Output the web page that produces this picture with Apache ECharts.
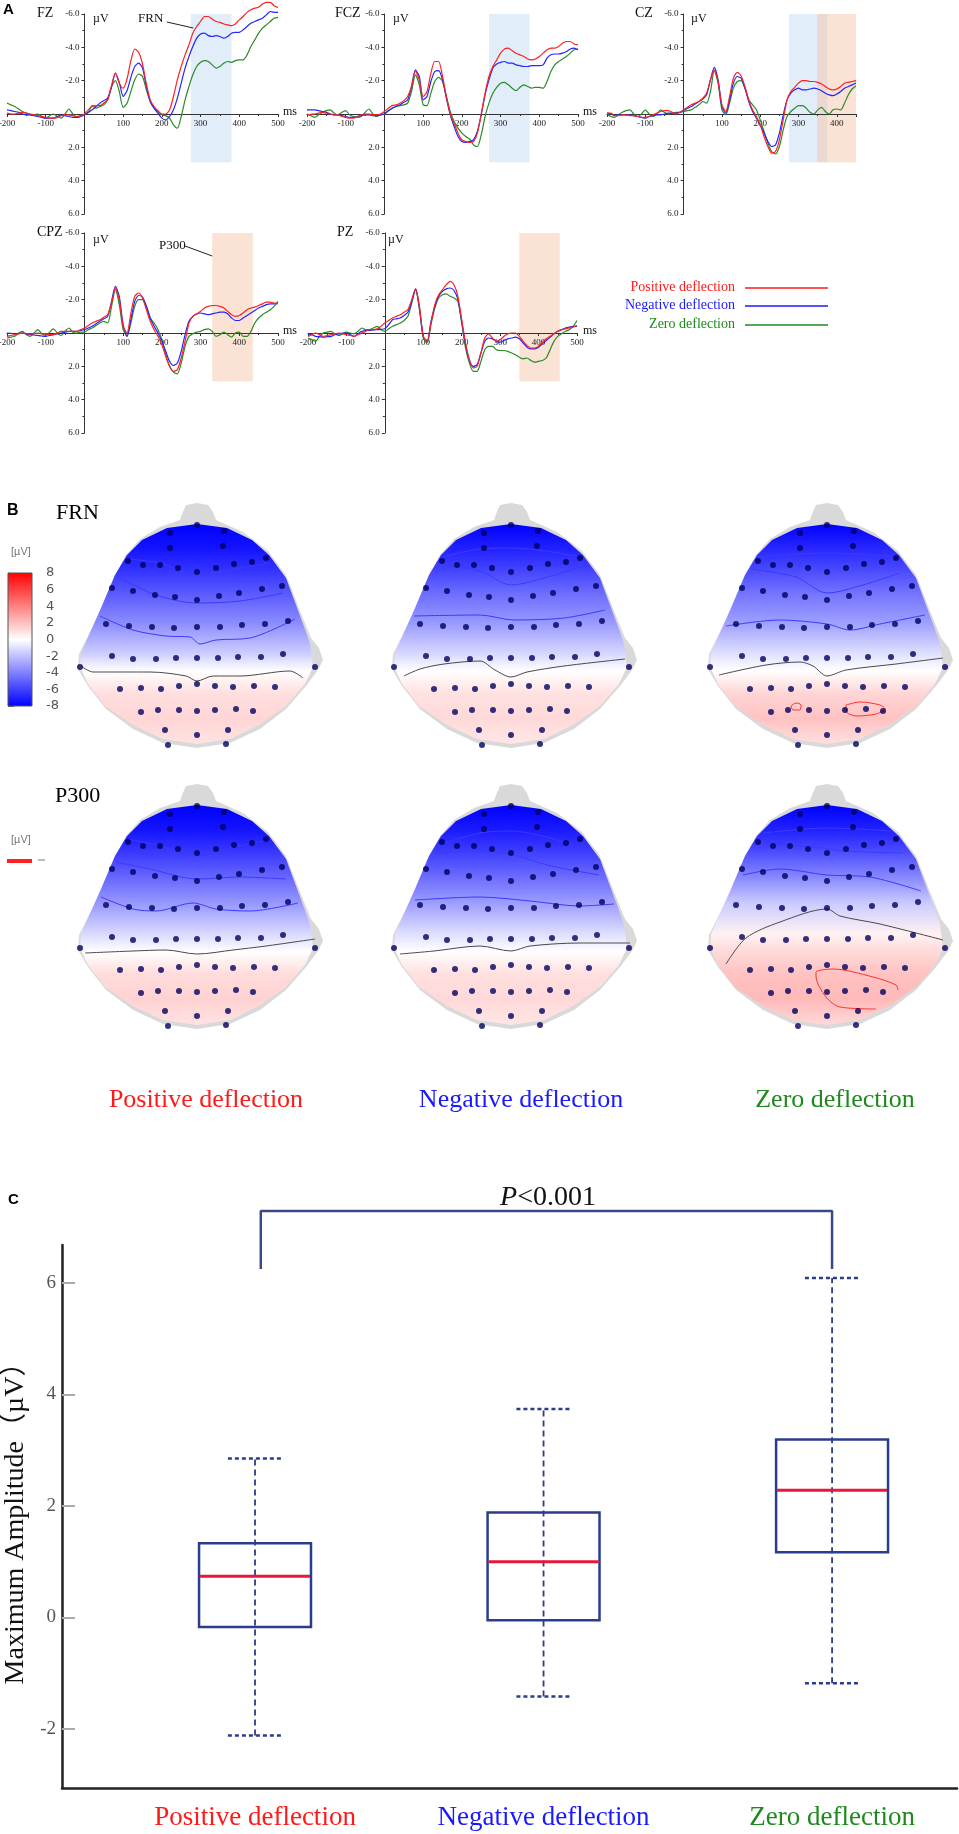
<!DOCTYPE html>
<html>
<head>
<meta charset="utf-8">
<script src="https://cdn.jsdelivr.net/npm/echarts@6.0.0/dist/echarts.min.js"></script>
<style>
  html, body { margin: 0; padding: 0; background: #fff; }
  #main { width: 959px; height: 1834px; }
</style>
</head>
<body>
<div id="main"></div>
<script>
// ---------- Panel A: ERP waveforms (µV, negative up), sampled every 10 ms ----------
const timeMs = [
  -200,-190,-180,-170,-160,-150,-140,-130,-120,-110,
  -100,-90,-80,-70,-60,-50,-40,-30,-20,-10,
  0,10,20,30,40,50,60,70,80,90,
  100,110,120,130,140,150,160,170,180,190,
  200,210,220,230,240,250,260,270,280,290,
  300,310,320,330,340,350,360,370,380,390,
  400,410,420,430,440,450,460,470,480,490,
  500
]

const fzRed = [
  -0.05,0,0,-0.05,-0.1,-0.05,0,0.05,0.1,0.15,
  0.2,0.25,0.25,0.2,0.1,0.05,0.05,0.1,0.15,0.1,
  0,-0.25,-0.45,-0.5,-0.5,-0.65,-0.85,-1.7,-2.45,-1.85,
  -1.55,-2.1,-3.2,-3.9,-3.7,-3.0,-1.8,-0.85,-0.45,-0.2,
  0,0,-0.25,-1.05,-2.05,-2.85,-3.55,-4.15,-4.85,-5.25,
  -5.55,-5.85,-5.85,-5.7,-5.55,-5.5,-5.4,-5.35,-5.3,-5.4,
  -5.65,-5.85,-6.1,-6.25,-6.35,-6.4,-6.6,-6.7,-6.7,-6.5,
  -6.4
]
const fzBlue = [
  -0.25,-0.2,-0.15,-0.1,0,0.05,0.05,0.1,0.15,0.2,
  0.25,0.25,0.25,0.15,0.05,0.1,0.15,0.2,0.2,0.15,
  0.05,-0.1,-0.25,-0.45,-0.65,-0.8,-0.95,-1.6,-2.45,-1.9,
  -1.05,-1.4,-2.2,-2.85,-3.05,-2.75,-1.65,-0.75,-0.35,-0.05,
  0.25,0.35,0.15,-0.25,-0.95,-1.85,-2.75,-3.45,-4.05,-4.55,
  -4.8,-4.85,-4.7,-4.65,-4.7,-4.65,-4.55,-4.65,-4.85,-4.9,
  -4.9,-5.05,-5.25,-5.45,-5.55,-5.65,-5.75,-5.95,-6.15,-6.1,
  -6.1
]
const fzGreen = [
  -0.65,-0.55,-0.45,-0.3,-0.15,-0.05,0.05,0.05,0,0.15,
  0.25,0.1,0,0.15,0.25,0,-0.3,0,0.2,0.15,
  0.05,-0.1,-0.5,-0.35,-0.45,-0.55,-0.85,-1.65,-2.0,-1.35,
  -0.4,-0.65,-1.35,-2.05,-2.4,-2.25,-1.45,-0.75,-0.35,-0.15,
  0.05,0.1,0.25,0.65,0.85,0.15,-0.85,-1.65,-2.35,-2.85,
  -3.1,-3.2,-3.15,-2.95,-2.75,-2.85,-3.05,-3.15,-3.1,-3.2,
  -3.25,-3.25,-3.55,-4.05,-4.45,-4.85,-5.15,-5.35,-5.55,-5.75,
  -5.8
]

const fczRed = [
  0.05,0.02,0,-0.05,-0.1,-0.05,0,0.05,0.05,0.15,
  0.2,0.25,0.25,0.15,0.05,0,0,0.05,0.05,0,
  -0.15,-0.35,-0.5,-0.55,-0.65,-0.8,-1.05,-1.65,-2.55,-2.05,
  -1.05,-1.35,-2.45,-3.15,-3.15,-2.25,-1.05,0,0.55,1.15,
  1.55,1.65,1.7,1.65,1.15,0,-1.25,-2.25,-2.85,-3.25,
  -3.65,-3.9,-3.95,-3.8,-3.65,-3.55,-3.45,-3.3,-3.25,-3.3,
  -3.45,-3.65,-3.85,-3.95,-3.95,-4.05,-4.25,-4.35,-4.35,-4.2,
  -4.15
]
const fczBlue = [
  -0.25,-0.25,-0.25,-0.2,-0.15,-0.1,0,0.05,0.05,0.1,
  0.15,0.2,0.2,0.15,0.1,0.05,0.05,0.1,0.1,0.05,
  0,-0.2,-0.35,-0.45,-0.55,-0.7,-0.85,-1.65,-2.65,-2.25,
  -0.85,-1.05,-1.95,-2.55,-2.6,-2.05,-0.95,0.05,0.75,1.35,
  1.65,1.7,1.65,1.55,1.05,0.05,-1.15,-2.05,-2.75,-3.0,
  -3.1,-3.15,-3.05,-3.05,-2.95,-2.9,-2.85,-2.85,-2.9,-2.9,
  -2.9,-2.95,-3.35,-3.55,-3.6,-3.6,-3.65,-3.75,-3.9,-3.95,
  -3.85
]
const fczGreen = [
  0,0.1,0.2,0.05,-0.1,-0.2,-0.25,-0.05,0.05,-0.1,
  -0.2,0.05,0.15,0.2,0.15,-0.1,-0.3,0,0.15,0.05,
  0,-0.2,-0.35,-0.45,-0.5,-0.55,-0.65,-1.35,-2.35,-1.75,
  -0.55,-0.5,-1.25,-1.95,-2.2,-1.95,-1.05,-0.15,0.45,0.85,
  1.15,1.35,1.5,1.85,1.95,1.25,0.15,-0.65,-1.25,-1.6,
  -1.85,-1.9,-1.75,-1.55,-1.4,-1.6,-1.75,-1.65,-1.55,-1.6,
  -1.6,-1.55,-1.95,-2.55,-2.95,-3.15,-3.3,-3.45,-3.65,-3.85,
  -3.9
]

// CZ is recorded up to 450 ms only
const czRed = [
  -0.05,-0.05,0.1,0.1,0.05,0.05,0.1,0.1,0.15,0.2,
  0.2,0.15,0.05,-0.05,-0.15,-0.2,-0.2,-0.1,0,-0.1,
  -0.25,-0.4,-0.55,-0.65,-0.75,-0.95,-1.25,-2.05,-2.65,-1.95,
  -0.55,-0.15,-1.05,-2.15,-2.5,-2.3,-1.65,-0.85,-0.25,0.15,
  0.65,1.35,1.95,2.35,2.25,1.55,0.35,-0.85,-1.35,-1.6,
  -1.85,-2.0,-2.0,-1.95,-1.95,-1.9,-1.8,-1.65,-1.5,-1.45,
  -1.5,-1.65,-1.85,-1.9,-1.95,-2.0
]
const czBlue = [
  -0.05,0,0.1,0.05,0.05,0.05,0.05,0.1,0.15,0.2,
  0.25,0.15,0.1,0.05,0.05,0,-0.05,-0.05,-0.05,-0.1,
  -0.2,-0.35,-0.45,-0.6,-0.75,-0.9,-1.15,-2.05,-2.8,-2.05,
  -0.45,-0.05,-0.85,-1.85,-2.25,-2.15,-1.55,-0.75,-0.15,0.25,
  0.65,1.15,1.65,1.95,1.85,1.15,0.05,-0.85,-1.25,-1.45,
  -1.55,-1.45,-1.45,-1.5,-1.55,-1.5,-1.4,-1.25,-1.15,-1.1,
  -1.2,-1.35,-1.55,-1.65,-1.75,-1.85
]
const czGreen = [
  0,0.15,0.2,0.05,-0.1,-0.2,-0.25,0,0.15,0,
  -0.25,0,0.15,0,-0.25,-0.1,0,-0.05,-0.1,-0.1,
  -0.15,-0.2,-0.25,-0.4,-0.55,-0.75,-0.65,-1.35,-2.6,-1.85,
  -0.25,0.05,-0.65,-1.55,-1.95,-2.0,-1.55,-0.85,-0.55,-0.25,
  0.35,1.05,1.75,2.25,2.4,1.95,0.95,0.15,-0.15,-0.35,
  -0.5,-0.5,-0.35,-0.1,0,-0.25,-0.4,-0.15,0,-0.25,
  -0.3,-0.25,-0.65,-1.15,-1.5,-1.7
]

const cpzRed = [
  0.2,0.15,0.1,0.05,0,0.05,0.05,0.05,0,0.05,
  0.05,0.1,0.1,0,-0.1,-0.1,-0.1,-0.1,-0.1,-0.2,
  -0.3,-0.45,-0.6,-0.7,-0.8,-0.95,-1.1,-1.8,-2.7,-2.0,
  -0.4,0,-1.2,-2.2,-2.4,-2.1,-1.4,-0.7,-0.2,0.2,
  0.7,1.4,2.0,2.3,2.2,1.5,0.5,-0.6,-1.0,-1.15,
  -1.3,-1.5,-1.6,-1.65,-1.65,-1.6,-1.5,-1.3,-1.1,-1.0,
  -1.05,-1.2,-1.4,-1.5,-1.55,-1.65,-1.75,-1.85,-1.85,-1.8,
  -1.75
]
const cpzBlue = [
  0,0.02,0.05,0.03,0,0.05,0.1,0.12,0.15,0.18,
  0.2,0.15,0.1,0.05,0,-0.05,-0.1,-0.1,-0.1,-0.15,
  -0.2,-0.3,-0.4,-0.55,-0.7,-0.85,-1.0,-1.9,-2.8,-2.2,
  -0.5,0.2,-0.8,-1.9,-2.25,-2.15,-1.6,-0.9,-0.4,0,
  0.5,1.1,1.7,1.95,1.8,1.1,0.1,-0.7,-1.0,-1.15,
  -1.2,-1.15,-1.1,-1.15,-1.2,-1.25,-1.25,-1.15,-0.9,-0.75,
  -0.75,-0.9,-1.05,-1.2,-1.35,-1.5,-1.6,-1.7,-1.75,-1.75,
  -1.8
]
const cpzGreen = [
  0.3,0.25,0.2,0,-0.1,0.1,0.2,0,-0.2,0.05,
  0.15,-0.05,-0.25,0,0.15,-0.1,-0.3,-0.05,0,-0.05,
  -0.05,-0.2,-0.3,-0.45,-0.6,-0.7,-0.6,-1.6,-2.6,-1.7,
  -0.2,0.2,-0.6,-1.6,-2.0,-2.0,-1.6,-0.9,-0.6,-0.2,
  0.4,1.3,2.0,2.35,2.45,1.8,0.8,0.2,0.05,-0.05,
  -0.1,-0.2,-0.25,-0.1,0.2,0.1,-0.05,0.1,0.25,0,
  -0.05,0.2,0.2,-0.1,-0.6,-0.9,-1.1,-1.25,-1.4,-1.6,
  -1.9
]

const pzRed = [
  0.2,0.1,0,0.1,0.2,0.15,0.1,0.05,0,0.05,
  0.1,0.15,0.2,0.1,0,-0.1,-0.2,-0.2,-0.25,-0.4,
  -0.6,-0.75,-0.9,-1.0,-1.1,-1.25,-1.4,-2.0,-2.65,-1.6,
  0.2,0.5,-0.6,-1.7,-2.3,-2.6,-2.9,-3.1,-2.9,-2.2,
  -0.8,0.6,1.6,2.1,2.0,1.2,0.3,0.05,0.3,0.5,
  0.4,0.2,0.05,0,0,0.2,0.5,0.75,0.9,0.9,
  0.8,0.55,0.35,0.2,0.05,-0.1,-0.2,-0.25,-0.3,-0.35,
  -0.45
]
const pzBlue = [
  0.05,0.1,0.2,0.22,0.25,0.22,0.2,0.1,0.05,0,
  0,0.1,0.2,0.05,-0.1,-0.15,-0.15,-0.18,-0.2,-0.22,
  -0.25,-0.5,-0.8,-0.85,-0.9,-1.05,-1.25,-1.9,-2.65,-1.5,
  0.2,0.5,-0.7,-1.6,-2.2,-2.5,-2.65,-2.7,-2.55,-2.0,
  -0.7,0.7,1.65,2.0,1.9,1.2,0.5,0.3,0.35,0.5,
  0.55,0.45,0.35,0.3,0.25,0.35,0.6,0.85,0.95,0.95,
  0.85,0.65,0.45,0.25,0.05,-0.1,-0.2,-0.3,-0.35,-0.4,
  -0.4
]
const pzGreen = [
  0.3,0.4,0.5,0.2,0,-0.05,-0.1,0.05,0.15,0.05,
  -0.05,0,0.05,-0.1,-0.3,-0.2,-0.2,-0.3,-0.4,-0.2,
  -0.1,-0.25,-0.4,-0.5,-0.6,-0.75,-1.0,-1.8,-2.6,-1.4,
  0.3,0.6,-0.5,-1.5,-2.1,-2.3,-2.35,-2.2,-2.1,-1.9,
  -0.6,0.9,1.8,2.3,2.3,1.7,1.0,0.8,0.8,1.0,
  1.05,1.05,1.1,1.2,1.3,1.45,1.55,1.5,1.65,1.75,
  1.7,1.65,1.5,1.0,0.5,0.2,0.05,-0.1,-0.2,-0.4,
  -0.75
]

// analysis windows (ms)
const fzFrnWindow = [275, 380]
const fczFrnWindow = [270, 375]
const czFrnWindow = [275, 375]
const czP300Window = [348, 450]
const cpzP300Window = [330, 435]
const pzP300Window = [350, 455]
const windowSpan = [-6, 2.9]   // µV extent of the shaded windows

// annotation arrows [t, µV] -> [t, µV]
const frnArrow = [[213, -5.52], [281, -5.16]]
const p300Arrow = [[260, -5.22], [330, -4.62]]

// ---------- Panel B: topographies ----------
const colorbarTicks = [-8, -6, -4, -2, 0, 2, 4, 6, 8]

// electrode layout (head-local units, y downward from nose tip)
const electrodeX = [0,-27,27, -27,26, -69,-54,-37,-19,0,19,37,55,69,
  -85,-64,-42,-22,0,22,42,65,85, -91,-68,-45,-23,0,23,45,68,91,
  -85,-64,-41,-21,0,21,41,64,86, -117,118,
  -77,-56,-36,-18,0,18,36,57,78, -56,-39,-18,0,18,39,56, -32,0,31, -29,29]
const electrodeY = [22,30,28, 45,43, 58,62,62,65,69,65,61,59,55,
  85,88,92,94,97,93,90,86,83, 121,123,124,125,124,124,122,121,118,
  153,156,156,155,155,155,154,154,151, 164,164,
  186,185,186,183,181,183,184,183,184, 209,207,207,208,207,206,208, 227,232,227, 242,241]

const headOutline = [[0,0],[-11,2],[-15,11],[-17,17],[-37,24],[-57,36],[-71,52],[-82,72],[-97,108],
  [-110,135],[-118,151],[-119,166],[-109,183],[-91,206],[-64,226],[-34,240],[0,245],[33,240],
  [63,226],[89,206],[109,183],[121,167],[126,157],[122,145],[114,135],[103,108],[89,72],
  [71,48],[46,29],[19,17],[16,9],[11,2]]
const headFill = [[0,21],[-30,25],[-55,37],[-70,52],[-82,72],[-96,105],[-108,132],[-116,150],
  [-117,164],[-109,181],[-92,203],[-64,222],[-34,236],[0,241],[33,236],[62,222],[89,203],
  [108,181],[116,164],[113,140],[102,110],[89,75],[72,52],[55,37],[30,25]]

// midline amplitude profile (µV) at these depths
const profileY = [21, 45, 65, 90, 120, 150, 168, 190, 215, 241]
const frnPosProfile  = [-8.0, -7.4, -6.5, -5.2, -3.6, -1.6, 0, 1.0, 1.3, 0.9]
const frnNegProfile  = [-8.0, -7.0, -6.0, -4.6, -3.2, -1.3, 0, 0.9, 1.2, 0.8]
const frnZeroProfile = [-8.0, -6.8, -5.8, -4.4, -3.0, -1.0, 0, 1.3, 1.9, 1.0]
const p3PosProfile   = [-8.0, -7.4, -6.4, -5.0, -3.2, -1.2, 0, 1.1, 1.4, 0.9]
const p3NegProfile   = [-8.0, -7.2, -6.2, -4.8, -3.0, -1.0, 0, 1.0, 1.2, 0.8]
const p3ZeroProfile  = [-8.0, -7.0, -5.8, -4.0, -1.6, 0.4, 1.2, 1.9, 2.2, 1.2]

const frnPosBlue = [
  [[-69,56],[-37,60],[0,72],[36,66],[73,60]],
  [[-79,74],[-41,92],[0,100],[43,98],[86,90]],
  [[-97,113],[-64,127],[-31,133],[-7,134],[3,141],[19,137],[53,135],[98,116]]
]
const frnPosZero = [[-116,163],[-104,169],[-47,169],[-11,173],[0,178],[16,173],[43,173],[93,168],[106,175]]
const frnNegBlue = [
  [[-69,54],[-31,46],[0,45],[35,48],[69,54]],
  [[-75,60],[-31,68],[0,82],[36,74],[76,62]],
  [[-97,113],[-31,112],[3,117],[53,115],[94,107]]
]
const frnNegZero = [[-107,173],[-91,166],[-67,161],[-31,158],[-16,167],[0,174],[16,169],[53,163],[114,156]]
const frnZeroBlue = [
  [[-71,54],[0,50],[71,54]],
  [[-76,66],[-31,74],[0,90],[36,82],[73,70]],
  [[-101,123],[-47,117],[0,121],[23,127],[53,121],[98,112]]
]
const frnZeroZero = [[-108,172],[-61,162],[-27,159],[-14,163],[0,173],[19,167],[69,161],[116,155]]
const frnZeroRed = [
  [[-36,203],[-31,200],[-26,202],[-27,207],[-34,207],[-36,203]],
  [[19,202],[33,199],[53,202],[58,206],[49,211],[29,213],[19,208],[19,202]]
]
const p3PosBlue = [
  [[-69,55],[-37,62],[0,72],[36,63],[70,56]],
  [[-81,78],[-47,85],[0,95],[43,93],[89,95]],
  [[-96,113],[-64,125],[-41,127],[-4,119],[19,125],[53,127],[101,119]]
]
const p3PosZero = [[-112,169],[-64,167],[-31,166],[0,170],[36,166],[69,162],[118,155]]
const p3NegBlue = [
  [[-69,60],[-31,49],[0,47],[35,53],[69,63]],
  [[-77,69],[-31,67],[3,71],[36,81],[88,91]],
  [[-96,116],[-31,113],[19,117],[69,122],[103,120]]
]
const p3NegZero = [[-111,170],[-77,167],[-31,162],[0,167],[19,162],[69,159],[119,159]]
const p3ZeroBlue = [
  [[-64,49],[0,44],[66,47]],
  [[-67,59],[-14,63],[19,67],[76,69]],
  [[-84,91],[-47,85],[0,91],[43,93],[94,107]]
]
const p3ZeroZero = [[-101,180],[-81,154],[-47,138],[0,125],[13,132],[53,140],[116,156]]
const p3ZeroRed = [
  [[71,206],[69,201],[46,193],[6,185],[-11,188],[-11,192],[-1,213],[13,223],[49,225]]
]

// ---------- Panel C: maximum amplitude box plot ----------
const boxCategories = ['Positive deflection', 'Negative deflection', 'Zero deflection']
const boxMin    = [-2.12, -1.42, -1.18]
const boxQ1     = [-0.17, -0.05, 1.17]
const boxMedian = [0.74, 1.0, 2.28]
const boxQ3     = [1.33, 1.88, 3.19]
const boxMax    = [2.85, 3.74, 6.09]
const bracketPoints = [[1.02, 6.25], [1.02, 7.29], [3.0, 7.29], [3.0, 6.25]]
const amplitudeTicks = [-2, 0, 2, 4, 6]

// ---------------------------------------------------------------------
const SERIF = "'Liberation Serif', 'Times New Roman', serif"
const SANS = "'Liberation Sans', Arial, sans-serif"
const RED = '#ff1a1a', BLUE = '#1a1aff', GREEN = '#1e8a1e'

const option = {
  animation: false,
  backgroundColor: '#fff',
  grid: [], xAxis: [], yAxis: [], series: [],
  graphic: { elements: [] }
}

function addGrid(g, xa, ya) {
  const i = option.grid.length
  option.grid.push(Object.assign({ containLabel: false, outerBoundsMode: 'none' }, g))
  option.xAxis.push(Object.assign({ gridIndex: i, splitLine: { show: false } }, xa))
  option.yAxis.push(Object.assign({ gridIndex: i, splitLine: { show: false } }, ya))
  return i
}

function txt(x, y, text, font, fill, align, extra) {
  option.graphic.elements.push({
    type: 'text', x: x, y: y, silent: true,
    style: Object.assign({
      text: text, font: font, fill: fill || '#111',
      align: align || 'left', verticalAlign: 'middle',
      textAlign: align || 'left', textVerticalAlign: 'middle'
    }, extra || {})
  })
}

function ramp(v) {
  const t = Math.min(Math.abs(v) / 8, 1)
  const c = Math.round(255 * (1 - t))
  return v < 0 ? 'rgb(' + c + ',' + c + ',255)' : 'rgb(255,' + c + ',' + c + ')'
}

// ---------- Panel A ----------
const ERP_H = 200
const erpLayout = [
  { left: 7,   top: 14,  width: 271, tMax: 500 },
  { left: 307, top: 14,  width: 271, tMax: 500 },
  { left: 607, top: 14,  width: 249, tMax: 450 },
  { left: 7,   top: 233, width: 271, tMax: 500 },
  { left: 308, top: 233, width: 269, tMax: 500 }
]
const erpData = [
  { red: fzRed,  blue: fzBlue,  green: fzGreen,  frn: fzFrnWindow,  p300: null, arrow: frnArrow },
  { red: fczRed, blue: fczBlue, green: fczGreen, frn: fczFrnWindow, p300: null, arrow: null },
  { red: czRed,  blue: czBlue,  green: czGreen,  frn: czFrnWindow,  p300: czP300Window, arrow: null },
  { red: cpzRed, blue: cpzBlue, green: cpzGreen, frn: null, p300: cpzP300Window, arrow: p300Arrow },
  { red: pzRed,  blue: pzBlue,  green: pzGreen,  frn: null, p300: pzP300Window, arrow: null }
]

function shadeSeries(gi, win, color) {
  return {
    type: 'custom', xAxisIndex: gi, yAxisIndex: gi, silent: true, z: 0,
    data: [[win[0], win[1]]],
    renderItem: function (params, api) {
      const a = api.coord([api.value(0), windowSpan[0]])
      const b = api.coord([api.value(1), windowSpan[1]])
      return { type: 'rect', shape: { x: a[0], y: a[1], width: b[0] - a[0], height: b[1] - a[1] },
        style: { fill: color } }
    }
  }
}

erpLayout.forEach(function (L, k) {
  const d = erpData[k]
  // axes cross at (0 ms, 0 µV): shift them in from the grid edges
  const yShift = L.width * 200 / (L.tMax + 200)
  const gi = addGrid(
    { left: L.left, top: L.top, width: L.width, height: ERP_H },
    {
      type: 'value', min: -200, max: L.tMax, interval: 100, z: 5,
      position: 'bottom', offset: -ERP_H / 2,
      axisLine: { onZero: false, lineStyle: { color: '#333', width: 1 } },
      axisTick: { show: true, length: 3, lineStyle: { color: '#333' } },
      minorTick: { show: true, splitNumber: 2, length: 2, lineStyle: { color: '#333' } },
      axisLabel: {
        fontSize: 9, fontFamily: SERIF, color: '#222', margin: 5,
        formatter: function (v) { return (v === 0 || v % 100 !== 0) ? '' : String(v) }
      }
    },
    {
      type: 'value', min: -6, max: 6, interval: 2, inverse: true, z: 5,
      position: 'left', offset: -yShift,
      axisLine: { onZero: false, lineStyle: { color: '#333', width: 1 } },
      axisTick: { show: true, length: 3, lineStyle: { color: '#333' } },
      minorTick: { show: true, splitNumber: 2, length: 2, lineStyle: { color: '#333' } },
      axisLabel: {
        fontSize: 9, fontFamily: SERIF, color: '#222', margin: 5,
        formatter: function (v) { return v === 0 ? '' : v.toFixed(1) }
      }
    }
  )
  if (d.frn) option.series.push(shadeSeries(gi, d.frn, 'rgba(190,215,245,0.45)'))
  if (d.p300) option.series.push(shadeSeries(gi, d.p300, 'rgba(245,190,160,0.45)'))

  const traces = [
    ['Zero deflection', d.green, '#2a8a2a'],
    ['Negative deflection', d.blue, '#2525ff'],
    ['Positive deflection', d.red, '#ff2020']
  ]
  traces.forEach(function (tr, j) {
    const s = {
      type: 'line', name: tr[0], xAxisIndex: gi, yAxisIndex: gi, z: 6 + j,
      data: tr[1].map(function (v, n) { return [timeMs[n], v] }),
      showSymbol: false, symbol: 'none', smooth: 0.25, clip: false, silent: true,
      lineStyle: { color: tr[2], width: 1.2 }
    }
    if (j === 2 && d.arrow) {
      s.markLine = {
        silent: true, symbol: ['none', 'arrow'], symbolSize: [0, 7],
        lineStyle: { color: '#222', width: 1, type: 'solid' },
        label: { show: false },
        data: [[{ coord: d.arrow[0] }, { coord: d.arrow[1] }]]
      }
    }
    option.series.push(s)
  })
})

// Panel A texts
txt(3, 10, 'A', 'bold 15px ' + SANS, '#000')
const chanLabels = [['FZ', 37, 13], ['FCZ', 335, 13], ['CZ', 635, 13], ['CPZ', 37, 232], ['PZ', 337, 232]]
chanLabels.forEach(function (c) { txt(c[1], c[2], c[0], '14px ' + SERIF, '#111') })
const uvLabels = [[93, 19], [393, 19], [691, 19], [93, 240], [388, 240]]
uvLabels.forEach(function (c) { txt(c[0], c[1], 'µV', '12px ' + SERIF, '#111') })
const msLabels = [[283, 112], [583, 112], [283, 331], [583, 331]]
msLabels.forEach(function (c) { txt(c[0], c[1], 'ms', '12px ' + SERIF, '#111') })
txt(138, 19, 'FRN', '13px ' + SERIF, '#111')
txt(159, 246, 'P300', '13px ' + SERIF, '#111')

const legendRows = [['Positive deflection', RED, 287], ['Negative deflection', BLUE, 305], ['Zero deflection', GREEN, 324]]
legendRows.forEach(function (r) {
  txt(735, r[2], r[0], '14px ' + SERIF, r[1], 'right')
  option.graphic.elements.push({ type: 'line', silent: true,
    shape: { x1: 745, y1: r[2] + 1, x2: 828, y2: r[2] + 1 }, style: { stroke: r[1], lineWidth: 1.4 } })
})

// ---------- Panel B ----------
txt(7, 511, 'B', 'bold 16px ' + SANS, '#000')
txt(56, 513, 'FRN', '22px ' + SERIF, '#000')
txt(55, 796, 'P300', '22px ' + SERIF, '#000')
txt(11, 552, '[µV]', '11px ' + SANS, '#777')
txt(11, 840, '[µV]', '11px ' + SANS, '#777')
option.graphic.elements.push({ type: 'rect', silent: true, shape: { x: 7, y: 859, width: 25, height: 4 }, style: { fill: '#ff2020' } })
option.graphic.elements.push({ type: 'line', silent: true, shape: { x1: 38, y1: 860, x2: 45, y2: 860 }, style: { stroke: '#777', lineWidth: 1 } })

// colour scale
const cb = addGrid(
  { left: 8, top: 573, width: 24, height: 133 },
  { type: 'value', min: 0, max: 1, show: false },
  {
    type: 'value', position: 'right', offset: 7, min: colorbarTicks[0], max: colorbarTicks[colorbarTicks.length - 1], interval: 2,
    axisLine: { show: true, lineStyle: { color: '#666', width: 1 } },
    axisTick: { show: true, length: 6, lineStyle: { color: '#666' } },
    axisLabel: { fontSize: 13, fontFamily: "'DejaVu Sans', sans-serif", color: '#555', margin: 7 }
  }
)
option.series.push({
  type: 'custom', xAxisIndex: cb, yAxisIndex: cb, silent: true, data: [[0, 0]],
  renderItem: function (params, api) {
    const a = api.coord([0, colorbarTicks[colorbarTicks.length - 1]])
    const b = api.coord([1, colorbarTicks[0]])
    return { type: 'rect', shape: { x: a[0], y: a[1], width: b[0] - a[0], height: b[1] - a[1] },
      style: { stroke: '#555', lineWidth: 1,
        fill: new echarts.graphic.LinearGradient(0, 0, 0, 1, [
          { offset: 0, color: ramp(8) }, { offset: 0.5, color: ramp(0) }, { offset: 1, color: ramp(-8) }]) } }
  }
})

const headLayout = [
  { cx: 197, top: 503 }, { cx: 511, top: 503 }, { cx: 827, top: 503 },
  { cx: 197, top: 784 }, { cx: 511, top: 784 }, { cx: 827, top: 784 }
]
const headData = [
  { profile: frnPosProfile,  blue: frnPosBlue,  zero: frnPosZero,  red: [] },
  { profile: frnNegProfile,  blue: frnNegBlue,  zero: frnNegZero,  red: [] },
  { profile: frnZeroProfile, blue: frnZeroBlue, zero: frnZeroZero, red: frnZeroRed },
  { profile: p3PosProfile,   blue: p3PosBlue,   zero: p3PosZero,   red: [] },
  { profile: p3NegProfile,   blue: p3NegBlue,   zero: p3NegZero,   red: [] },
  { profile: p3ZeroProfile,  blue: p3ZeroBlue,  zero: p3ZeroZero,  red: p3ZeroRed }
]

function contour(gi, pts, color) {
  return { type: 'line', xAxisIndex: gi, yAxisIndex: gi, data: pts, z: 4, silent: true,
    showSymbol: false, symbol: 'none', smooth: 0.3, clip: false,
    lineStyle: { color: color, width: 1 } }
}

headLayout.forEach(function (h, k) {
  const d = headData[k]
  const gi = addGrid(
    { left: h.cx - 125, top: h.top, width: 250, height: 250 },
    { type: 'value', min: -125, max: 125, show: false },
    { type: 'value', min: 0, max: 250, inverse: true, show: false }
  )
  option.series.push({
    type: 'custom', xAxisIndex: gi, yAxisIndex: gi, silent: true, z: 1, data: [[0, 0]],
    renderItem: function (params, api) {
      return { type: 'polygon', shape: { points: headOutline.map(function (q) { return api.coord(q) }) },
        style: { fill: '#d9d9d9' } }
    }
  })
  option.series.push({
    type: 'custom', xAxisIndex: gi, yAxisIndex: gi, silent: true, z: 2, data: [[0, 0]],
    renderItem: function (params, api) {
      const y0 = profileY[0], y1 = profileY[profileY.length - 1]
      const a = api.coord([0, y0]), b = api.coord([0, y1])
      const stops = profileY.map(function (y, j) {
        return { offset: (y - y0) / (y1 - y0), color: ramp(d.profile[j]) }
      })
      return { type: 'polygon', shape: { points: headFill.map(function (q) { return api.coord(q) }) },
        style: { fill: new echarts.graphic.LinearGradient(0, a[1], 0, b[1], stops, true) } }
    }
  })
  d.blue.forEach(function (line) { option.series.push(contour(gi, line, '#3a3aff')) })
  option.series.push(contour(gi, d.zero, '#4a4a4a'))
  d.red.forEach(function (line) { option.series.push(contour(gi, line, '#ff3030')) })
  option.series.push({
    type: 'scatter', xAxisIndex: gi, yAxisIndex: gi, z: 5, silent: true,
    symbolSize: 6, itemStyle: { color: '#00005e' },
    data: electrodeX.map(function (x, j) { return [x, electrodeY[j]] })
  })
})

const condCentres = [206, 521, 835]
const condColors = [RED, BLUE, GREEN]
boxCategories.forEach(function (c, k) {
  txt(condCentres[k], 1100, c, '26px ' + SERIF, condColors[k], 'center')
})

// ---------- Panel C ----------
txt(8, 1200, 'C', 'bold 15px ' + SANS, '#000')
const bx = addGrid(
  { left: 62, top: 1245, width: 895, height: 543 },
  {
    type: 'value', min: 0.331, max: 3.433,
    axisLine: { show: true, onZero: false, lineStyle: { color: '#222', width: 2.5 } },
    axisTick: { show: false },
    axisLabel: {
      customValues: [1, 2, 3], margin: 16,
      formatter: function (v) { const k = Math.round(v) - 1; return '{c' + k + '|' + boxCategories[k] + '}' },
      rich: {
        c0: { color: RED, fontSize: 27, fontFamily: SERIF },
        c1: { color: BLUE, fontSize: 27, fontFamily: SERIF },
        c2: { color: GREEN, fontSize: 27, fontFamily: SERIF }
      }
    }
  },
  {
    type: 'value', min: -3.06, max: 6.68,
    name: 'Maximum Amplitude（µV）', nameLocation: 'middle', nameGap: 26, nameRotate: 90,
    nameTextStyle: { fontSize: 28, fontFamily: SERIF + ", 'Noto Sans CJK SC'", color: '#111' },
    axisLine: { show: true, onZero: false, lineStyle: { color: '#222', width: 2.5 } },
    axisTick: { show: true, inside: true, length: 13, customValues: amplitudeTicks, lineStyle: { color: '#aaa', width: 2 } },
    axisLabel: { customValues: amplitudeTicks, fontSize: 19, fontFamily: SERIF, color: '#555', margin: 6 }
  }
)
const NAVY = '#2c3c8c'
const boxHalf = 0.194, capHalf = 0.094
option.series.push({
  type: 'custom', xAxisIndex: bx, yAxisIndex: bx, silent: true, z: 3,
  data: boxCategories.map(function (c, k) { return [k + 1, boxMin[k], boxQ1[k], boxMedian[k], boxQ3[k], boxMax[k]] }),
  renderItem: function (params, api) {
    const x = api.value(0)
    const at = function (v) { return api.coord([x, v]) }
    const L = api.coord([x - boxHalf, 0])[0], R = api.coord([x + boxHalf, 0])[0]
    const cl = api.coord([x - capHalf, 0])[0], cr = api.coord([x + capHalf, 0])[0]
    const pMin = at(api.value(1)), pQ1 = at(api.value(2)), pMed = at(api.value(3))
    const pQ3 = at(api.value(4)), pMax = at(api.value(5))
    return { type: 'group', children: [
      { type: 'line', shape: { x1: pMin[0], y1: pMin[1], x2: pMax[0], y2: pMax[1] },
        style: { stroke: NAVY, lineWidth: 1.8, lineDash: [6, 4] } },
      { type: 'line', shape: { x1: cl, y1: pMin[1], x2: cr, y2: pMin[1] },
        style: { stroke: NAVY, lineWidth: 2.5, lineDash: [4, 3] } },
      { type: 'line', shape: { x1: cl, y1: pMax[1], x2: cr, y2: pMax[1] },
        style: { stroke: NAVY, lineWidth: 2.5, lineDash: [4, 3] } },
      { type: 'rect', shape: { x: L, y: pQ3[1], width: R - L, height: pQ1[1] - pQ3[1] },
        style: { fill: 'rgba(0,0,0,0)', stroke: NAVY, lineWidth: 2.5 } },
      { type: 'line', shape: { x1: L + 1, y1: pMed[1], x2: R - 1, y2: pMed[1] },
        style: { stroke: '#e8173a', lineWidth: 3 } }
    ] }
  }
})
option.series.push({
  type: 'line', xAxisIndex: bx, yAxisIndex: bx, data: bracketPoints, clip: false, silent: true,
  showSymbol: false, symbol: 'none', lineStyle: { color: '#3a4a86', width: 2.5 }, z: 4
})
txt(548, 1198, '{i|P}<0.001', '28px ' + SERIF, '#111', 'center', {
  rich: { i: { fontStyle: 'italic', fontSize: 28, fontFamily: SERIF, fill: '#111' } }
})

const chart = echarts.init(document.getElementById('main'), null, { renderer: 'canvas' })
chart.setOption(option)
</script>
</body>
</html>
